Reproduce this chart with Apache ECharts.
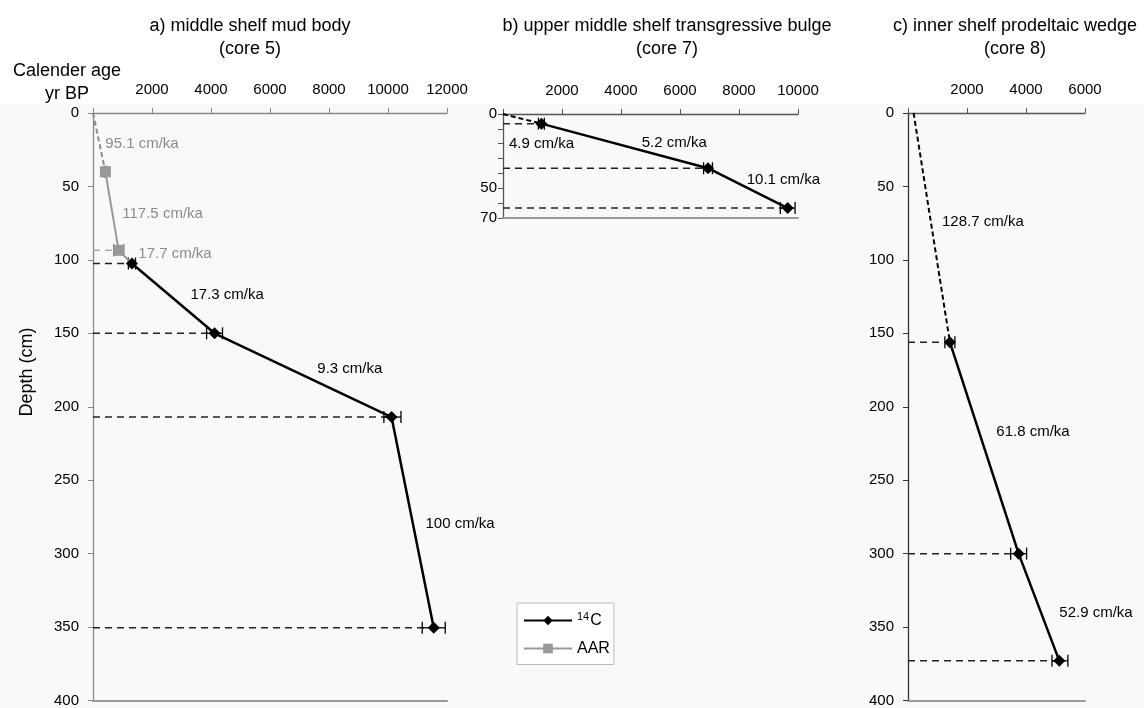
<!DOCTYPE html>
<html>
<head>
<meta charset="utf-8">
<script src="https://cdn.jsdelivr.net/npm/echarts@6/dist/echarts.min.js"></script>
<style>
  html, body { margin: 0; padding: 0; background: #fff; }
  #chart { width: 1144px; height: 708px; }
</style>
</head>
<body>
<div id="chart"></div>
<script>
// core 5 - middle shelf mud body  [calendar age yr BP, depth cm]
const core5C14 = [[1320, 102.5], [4120, 150], [10120, 207], [11550, 350.5]];
const core5C14Err = [[120, 120], [270, 270], [260, 320], [390, 390]];
const core5Aar = [[420, 40], [870, 93.5]];
const core5AarErr = [[40, 40], [170, 170]];
const core5Rates = ['95.1 cm/ka', '117.5 cm/ka', '17.7 cm/ka', '17.3 cm/ka', '9.3 cm/ka', '100 cm/ka'];

// core 7 - upper middle shelf transgressive bulge
const core7C14 = [[1300, 6.5], [6950, 36.5], [9650, 63.3]];
const core7C14Err = [[100, 100], [150, 150], [250, 250]];
const core7Rates = ['4.9 cm/ka', '5.2 cm/ka', '10.1 cm/ka'];

// core 8 - inner shelf prodeltaic wedge
const core8C14 = [[1420, 156], [3750, 300], [5130, 373]];
const core8C14Err = [[170, 170], [270, 270], [250, 290]];
const core8Rates = ['128.7 cm/ka', '61.8 cm/ka', '52.9 cm/ka'];
const core8Top = [190, 0];

const ageTicks = [2000, 4000, 6000, 8000, 10000, 12000];

const FONT = 'Liberation Sans, Arial, Helvetica, sans-serif';
const GREY = '#8c8c8c';

// where the rate labels sit (data coords of label's left/middle)
const ratePosA = [[417, 21], [993, 69], [1536, 96], [3305, 124], [7603, 174], [11271, 280]];
const ratePosB = [[203, 20], [4702, 19.6], [8261, 44.6]];
const ratePosC = [[1153, 74], [2993, 217], [5129, 340]];

const chart = echarts.init(document.getElementById('chart'));

function topAxis(grid, max, color) {
  return {
    type: 'value', gridIndex: grid, position: 'top', min: 0, max: max, interval: 2000,
    axisLine: { onZero: false, lineStyle: { color: color, width: 1.3 } },
    axisTick: { length: 5, lineStyle: { color: color } },
    splitLine: { show: false },
    axisLabel: {
      margin: 16, fontSize: 15, color: '#000', fontFamily: FONT,
      formatter: v => (ageTicks.indexOf(v) >= 0 ? String(v) : '')
    }
  };
}
function bottomAxis(grid, max) {
  return {
    type: 'value', gridIndex: grid, position: 'bottom', min: 0, max: max,
    axisLine: { onZero: false, lineStyle: { color: '#999', width: 2 } },
    axisTick: { show: false }, axisLabel: { show: false }, splitLine: { show: false }
  };
}
function depthAxis(grid, max, interval, color, margin, shown) {
  return {
    type: 'value', gridIndex: grid, inverse: true, min: 0, max: max, interval: interval,
    axisLine: { onZero: false, lineStyle: { color: color, width: 1.3 } },
    axisTick: { length: 5, lineStyle: { color: color } },
    splitLine: { show: false },
    axisLabel: {
      margin: margin, fontSize: 15, color: '#000', fontFamily: FONT,
      formatter: v => (!shown || shown.indexOf(v) >= 0 ? String(v) : '')
    }
  };
}

function c14Line(idx, pts) {
  return {
    type: 'line', name: '14C', xAxisIndex: idx, yAxisIndex: idx, data: pts,
    symbol: 'diamond', symbolSize: 12, z: 5,
    lineStyle: { color: '#000', width: 2.5 }, itemStyle: { color: '#000' }
  };
}
function dashedLine(idx, pts, color) {
  return {
    type: 'line', name: 'extrapolated', xAxisIndex: idx, yAxisIndex: idx, data: pts,
    symbol: 'none', z: 3, lineStyle: { color: color, width: 2, type: [5, 3] }
  };
}
function errorBars(idx, pts, errs, color) {
  return {
    type: 'custom', name: 'err', xAxisIndex: idx, yAxisIndex: idx, z: 4,
    encode: { x: [0, 2, 3], y: 1 },
    data: pts.map((p, i) => [p[0], p[1], p[0] - errs[i][0], p[0] + errs[i][1]]),
    renderItem: (params, api) => {
      const d = api.value(1);
      const a = api.coord([api.value(2), d]);
      const b = api.coord([api.value(3), d]);
      const s = { stroke: color, lineWidth: 1.3 };
      return {
        type: 'group', children: [
          { type: 'line', shape: { x1: a[0], y1: a[1], x2: b[0], y2: b[1] }, style: s },
          { type: 'line', shape: { x1: a[0], y1: a[1] - 6, x2: a[0], y2: a[1] + 6 }, style: s },
          { type: 'line', shape: { x1: b[0], y1: b[1] - 6, x2: b[0], y2: b[1] + 6 }, style: s }
        ]
      };
    }
  };
}
function guides(idx, pts, color) {
  return {
    type: 'custom', name: 'guide', xAxisIndex: idx, yAxisIndex: idx, z: 2,
    encode: { x: 0, y: 1 },
    data: pts,
    renderItem: (params, api) => {
      const a = api.coord([0, api.value(1)]);
      const b = api.coord([api.value(0), api.value(1)]);
      return {
        type: 'line', shape: { x1: a[0], y1: a[1], x2: b[0], y2: b[1] },
        style: { stroke: color, lineWidth: 1.5, lineDash: [7, 5] }
      };
    }
  };
}
function rateLabels(idx, pos, texts, colors) {
  return {
    type: 'custom', name: 'rate', xAxisIndex: idx, yAxisIndex: idx, z: 6,
    encode: { x: 0, y: 1 },
    data: pos.map((p, i) => [p[0], p[1], i]),
    renderItem: (params, api) => {
      const i = api.value(2);
      const c = api.coord([api.value(0), api.value(1)]);
      return {
        type: 'text', x: c[0], y: c[1],
        style: {
          text: texts[i], fill: colors[i], fontSize: 15, fontFamily: FONT,
          textAlign: 'left', textVerticalAlign: 'middle'
        }
      };
    }
  };
}

function textEl(text, x, y, size, extra) {
  return Object.assign({
    type: 'text', x: x, y: y,
    style: {
      text: text, fontSize: size, fontFamily: FONT, fill: '#000',
      textAlign: 'center', textVerticalAlign: 'top', lineHeight: 23
    }
  }, extra || {});
}

const option = {
  animation: false,
  backgroundColor: '#fff',
  graphic: [
    { type: 'rect', z: -10, shape: { x: 0, y: 104, width: 1144, height: 604 }, style: { fill: '#f9f9f9' } },
    textEl('a) middle shelf mud body\n(core 5)', 250, 15, 18),
    textEl('b) upper middle shelf transgressive bulge\n(core 7)', 667, 15, 18),
    textEl('c) inner shelf prodeltaic wedge\n(core 8)', 1015, 15, 18),
    textEl('Calender age\nyr BP', 67, 60, 18),
    {
      type: 'text', x: 27, y: 372, rotation: Math.PI / 2,
      style: { text: 'Depth (cm)', fontSize: 18, fontFamily: FONT, fill: '#000', textAlign: 'center', textVerticalAlign: 'middle' }
    }
  ],
  legend: {
    data: ['14C', 'AAR'], orient: 'vertical', left: 517, top: 603,
    padding: [8, 4, 8, 6], itemGap: 12, itemWidth: 48, itemHeight: 12,
    backgroundColor: '#fff', borderColor: '#bbb', borderWidth: 1,
    textStyle: {
      fontSize: 16, fontFamily: FONT, color: '#000',
      rich: { s: { fontSize: 11, fontFamily: FONT, color: '#000', padding: [0, 1, 8, 0] } }
    },
    formatter: n => (n === '14C' ? '{s|14}C' : 'AAR')
  },
  grid: [
    { left: 93, top: 113, width: 354, height: 592 },
    { left: 503, top: 114, width: 295, height: 104 },
    { left: 908, top: 113, width: 177, height: 592 }
  ],
  xAxis: [
    topAxis(0, 12000, '#888'), topAxis(1, 10000, '#555'), topAxis(2, 6000, '#555'),
    bottomAxis(0, 12000), bottomAxis(1, 10000), bottomAxis(2, 6000)
  ],
  yAxis: [
    depthAxis(0, 400, 50, '#888', 14, null),
    depthAxis(1, 70, 10, '#555', 6, [0, 50, 70]),
    depthAxis(2, 400, 50, '#333', 14, null)
  ],
  series: [
    // panel a
    guides(0, [core5Aar[1]], '#aaa'),
    guides(0, core5C14, '#222'),
    dashedLine(0, [[0, 0], core5Aar[0]], GREY),
    errorBars(0, core5Aar, core5AarErr, '#444'),
    {
      type: 'line', name: 'AAR', xAxisIndex: 0, yAxisIndex: 0, z: 5,
      data: [core5Aar[0], core5Aar[1], { value: core5C14[0], symbol: 'none' }],
      symbol: 'rect', symbolSize: 11,
      lineStyle: { color: '#999', width: 2 }, itemStyle: { color: '#999' }
    },
    errorBars(0, core5C14, core5C14Err, '#000'),
    c14Line(0, core5C14),
    rateLabels(0, ratePosA, core5Rates, [GREY, GREY, GREY, '#000', '#000', '#000']),
    // panel b
    guides(1, core7C14, '#222'),
    dashedLine(1, [[0, 0], core7C14[0]], '#000'),
    errorBars(1, core7C14, core7C14Err, '#000'),
    c14Line(1, core7C14),
    rateLabels(1, ratePosB, core7Rates, ['#000', '#000', '#000']),
    // panel c
    guides(2, core8C14, '#222'),
    dashedLine(2, [core8Top, core8C14[0]], '#000'),
    errorBars(2, core8C14, core8C14Err, '#000'),
    c14Line(2, core8C14),
    rateLabels(2, ratePosC, core8Rates, ['#000', '#000', '#000'])
  ]
};

chart.setOption(option);
</script>
</body>
</html>
